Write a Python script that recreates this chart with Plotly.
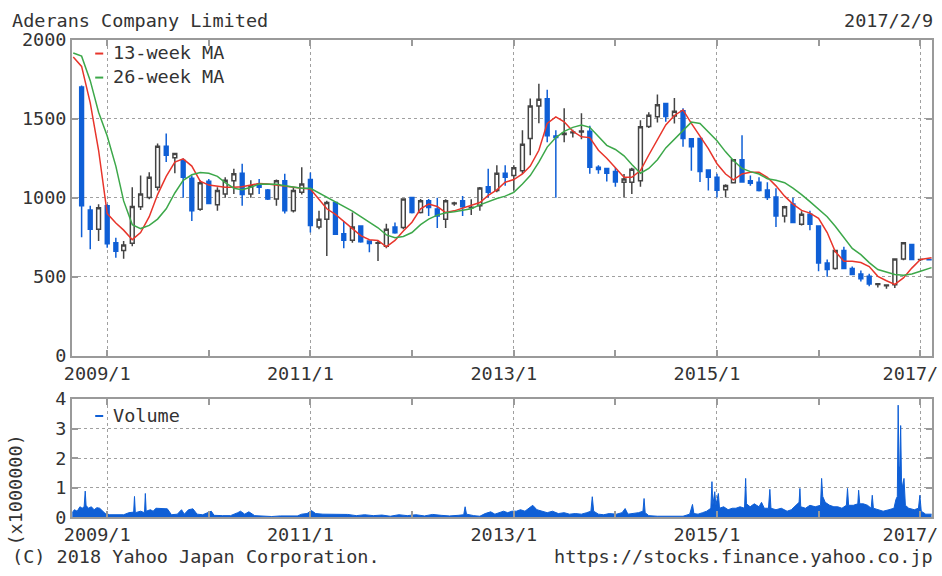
import pandas as pd
import plotly.graph_objects as go

# ---------------- data ----------------
candle_months = pd.date_range("2008-10-01", "2017-02-01", freq="MS")

opens = [1700, 922, 800,
         949, 715, 667, 712, 943, 1002, 1066, 1325, 1253, 1236, 1123, 927,
         1104, 955, 1023, 1108, 1155, 1023, 1087, 1049, 992, 1108, 917, 1034,
         1115, 815, 864, 970, 773, 731, 822, 726, 712, 694, 815, 811,
         1002, 906, 981, 928, 864, 962, 981, 936, 949, 1070, 1045, 1155,
         1140, 1170, 1374, 1580, 1625, 1390, 1400, 1410, 1415, 1420, 1193, 1185,
         1166, 1098, 1098, 1108, 1450, 1512, 1595, 1516, 1550, 1372, 1374, 1175,
         1130, 1050, 1095, 1240, 1108, 1098, 1049, 1004, 885, 960, 832, 896,
         822, 588, 552, 667, 552, 518, 503, 452, 444, 450, 612, 705,
         609, 610]
highs = [1710, 950, 958,
         958, 747, 726, 1066, 1140, 1161, 1343, 1406, 1285, 1248, 1140, 1110,
         1119, 1066, 1130, 1183, 1214, 1110, 1119, 1055, 1115, 1151, 1066, 1193,
         1160, 917, 981, 975, 853, 907, 825, 730, 726, 836, 843, 992,
         1005, 992, 992, 1000, 990, 975, 1011, 990, 1068, 1183, 1205, 1205,
         1205, 1427, 1627, 1720, 1682, 1427, 1565, 1430, 1534, 1455, 1205, 1187,
         1190, 1150, 1190, 1490, 1540, 1652, 1600, 1630, 1565, 1374, 1374, 1178,
         1151, 1085, 1245, 1395, 1140, 1130, 1098, 1060, 949, 1000, 915, 917,
         822, 609, 667, 690, 565, 540, 520, 458, 450, 615, 718, 708,
         612, 612]
lows = [750, 675, 726,
        683, 620, 614, 694, 922, 990, 1045, 1226, 1155, 1000, 853, 917,
        960, 917, 1000, 1023, 949, 1000, 1023, 985, 950, 900, 907, 1020,
        780, 800, 631, 765, 680, 716, 716, 656, 600, 680, 772, 800,
        900, 900, 885, 809, 809, 950, 885, 890, 917, 1002, 1034, 1076,
        1045, 1151, 1268, 1470, 1350, 1000, 1350, 1380, 1370, 1151, 1151, 1102,
        1070, 1002, 1023, 1070, 1440, 1475, 1480, 1469, 1323, 1170, 1100, 1045,
        1002, 1002, 1090, 1095, 1075, 1040, 985, 815, 843, 843, 825, 794,
        535, 500, 545, 552, 510, 470, 440, 432, 425, 430, 605, 605,
        600, 605]
closes = [950, 800, 936,
          709, 662, 701, 945, 1023, 1129, 1325, 1268, 1280, 1129, 917, 1094,
          964, 1045, 1110, 1151, 1020, 1076, 1066, 992, 1108, 917, 1045, 1087,
          825, 864, 970, 769, 731, 815, 722, 710, 716, 800, 779, 992,
          906, 981, 938, 885, 981, 966, 943, 940, 1062, 1034, 1155, 1129,
          1189, 1338, 1580, 1623, 1392, 1380, 1408, 1415, 1422, 1193, 1178, 1155,
          1100, 1119, 1180, 1448, 1522, 1588, 1514, 1546, 1375, 1323, 1165, 1130,
          1047, 1078, 1240, 1100, 1092, 1045, 1002, 885, 943, 843, 896, 832,
          588, 546, 667, 552, 514, 488, 455, 456, 448, 612, 715, 609,
          610, 608]

ma_dates = list(pd.date_range("2008-09-01", "2017-01-01", freq="MS").strftime("%Y-%m-%d")) + ["2017-02-10"]
ma13 = [1890, 1830, 1600, 1300,
        900, 840, 795, 735, 780, 880, 1020, 1135, 1225, 1246, 1200, 1105,
        1080, 1075, 1066, 1066, 1070, 1080, 1090, 1087, 1080, 1070, 1066, 1060,
        1055, 990, 930, 895, 850, 805, 760, 735, 730, 690, 730, 790,
        845, 930, 960, 945, 906, 917, 935, 950, 970, 1015, 1050, 1098,
        1115, 1150, 1200, 1300, 1470, 1511, 1480, 1420, 1385, 1380, 1300, 1250,
        1190, 1129, 1129, 1172, 1270, 1370, 1460, 1520, 1555, 1470, 1390, 1310,
        1215, 1150, 1113, 1150, 1161, 1161, 1129, 1075, 1010, 960, 920, 903,
        870, 780, 660, 599, 599, 590, 565, 503, 475, 452, 493, 555,
        610, 620]
ma26 = [1915, 1895, 1740, 1540,
        1390, 1200, 980, 830, 805, 825, 865, 930, 1030, 1110, 1145, 1160,
        1155, 1135, 1095, 1060, 1050, 1066, 1087, 1087, 1085, 1076, 1066, 1060,
        1060, 1030, 1000, 970, 945, 915, 880, 845, 810, 765, 747, 755,
        780, 830, 865, 890, 905, 912, 920, 930, 955, 975, 995, 1010,
        1034, 1087, 1140, 1225, 1320, 1380, 1420, 1445, 1460, 1445, 1390, 1331,
        1305, 1265, 1210, 1155, 1185, 1240, 1315, 1370, 1420, 1478, 1469, 1415,
        1360, 1290, 1235, 1185, 1165, 1150, 1120, 1110, 1095, 1060, 1020, 975,
        925, 880, 820, 750, 680, 640, 590, 546, 528, 515, 510, 518,
        535, 558]

vol_dates = [
    "2008-08-28", "2008-09-05", "2008-09-15", "2008-09-25", "2008-10-03", "2008-10-10", "2008-10-14",
    "2008-10-17", "2008-10-25", "2008-11-05", "2008-11-15", "2008-11-25", "2008-12-05", "2008-12-15",
    "2008-12-25", "2009-01-10", "2009-02-01", "2009-03-01", "2009-03-20", "2009-04-06", "2009-04-09",
    "2009-04-12", "2009-05-01", "2009-05-15", "2009-05-18", "2009-05-21", "2009-06-05", "2009-06-15",
    "2009-06-25", "2009-07-05", "2009-07-20", "2009-08-05", "2009-08-20", "2009-09-10", "2009-09-25",
    "2009-10-05", "2009-10-20", "2009-11-05", "2009-11-20", "2009-12-10", "2010-01-10", "2010-01-20",
    "2010-02-20", "2010-03-20", "2010-04-15", "2010-04-25", "2010-05-10", "2010-05-25", "2010-06-15",
    "2010-07-15", "2010-08-15", "2010-09-15", "2010-10-15", "2010-11-15", "2010-12-01", "2010-12-20",
    "2011-01-05", "2011-01-20", "2011-02-15", "2011-03-15", "2011-04-15", "2011-05-15", "2011-06-15",
    "2011-07-15", "2011-08-15", "2011-09-15", "2011-10-15", "2011-11-15", "2011-12-15", "2012-01-15",
    "2012-02-15", "2012-03-15", "2012-04-15", "2012-05-15", "2012-06-15", "2012-07-05", "2012-07-10",
    "2012-07-15", "2012-08-10", "2012-09-01", "2012-09-20", "2012-10-10", "2012-10-25", "2012-11-10",
    "2012-11-25", "2012-12-10", "2012-12-25", "2013-01-10", "2013-01-25", "2013-02-10", "2013-02-25",
    "2013-03-10", "2013-03-25", "2013-04-10", "2013-05-01", "2013-05-20", "2013-06-10", "2013-07-01",
    "2013-07-20", "2013-08-10", "2013-09-01", "2013-09-20", "2013-10-05", "2013-10-10", "2013-10-15",
    "2013-11-01", "2013-11-20", "2013-12-10", "2014-01-05", "2014-01-25", "2014-02-05", "2014-02-15",
    "2014-03-05", "2014-03-25", "2014-04-10", "2014-04-14", "2014-04-18", "2014-05-01", "2014-06-01",
    "2014-07-01", "2014-08-01", "2014-09-01", "2014-09-25", "2014-10-05", "2014-10-10", "2014-10-25",
    "2014-11-10", "2014-11-25", "2014-12-10", "2014-12-14", "2014-12-17", "2014-12-24", "2014-12-28",
    "2015-01-06", "2015-01-10", "2015-01-25", "2015-02-10", "2015-02-25", "2015-03-10", "2015-03-25",
    "2015-04-10", "2015-04-14", "2015-04-17", "2015-04-30", "2015-05-15", "2015-06-01", "2015-06-10",
    "2015-06-20", "2015-07-05", "2015-07-10", "2015-07-14", "2015-08-01", "2015-08-20", "2015-09-10",
    "2015-09-25", "2015-10-10", "2015-10-23", "2015-10-26", "2015-10-29", "2015-11-15", "2015-12-01",
    "2015-12-20", "2016-01-08", "2016-01-12", "2016-01-16", "2016-01-25", "2016-02-10", "2016-02-25",
    "2016-03-10", "2016-03-25", "2016-04-10", "2016-04-14", "2016-04-18", "2016-05-05", "2016-05-21",
    "2016-05-24", "2016-05-28", "2016-06-10", "2016-06-25", "2016-07-08", "2016-07-12", "2016-07-16",
    "2016-08-01", "2016-08-20", "2016-09-10", "2016-09-28", "2016-10-05", "2016-10-10", "2016-10-13",
    "2016-10-16", "2016-10-19", "2016-10-22", "2016-10-25", "2016-10-29", "2016-11-03", "2016-11-08",
    "2016-11-20", "2016-12-10", "2016-12-25", "2016-12-30", "2017-01-04", "2017-01-20", "2017-02-10",
]
vol_values = [
    0.15, 0.25, 0.2, 0.35, 0.3, 0.35, 0.88,
    0.4, 0.3, 0.35, 0.25, 0.32, 0.3, 0.2,
    0.12, 0.08, 0.07, 0.08, 0.15, 0.17, 0.7,
    0.15, 0.2, 0.15, 0.8, 0.2, 0.25, 0.2,
    0.3, 0.3, 0.3, 0.28, 0.08, 0.1, 0.25,
    0.1, 0.25, 0.28, 0.1, 0.08, 0.2, 0.06,
    0.05, 0.05, 0.15, 0.2, 0.1, 0.18, 0.05,
    0.04, 0.02, 0.04, 0.03, 0.04, 0.1, 0.12,
    0.22, 0.12, 0.1, 0.1, 0.08, 0.09, 0.05,
    0.08, 0.05, 0.07, 0.03, 0.08, 0.05, 0.08,
    0.04, 0.09, 0.06, 0.04, 0.06, 0.08, 0.35,
    0.1, 0.05, 0.03, 0.12, 0.18, 0.1, 0.15,
    0.2, 0.15, 0.2, 0.2, 0.25, 0.2, 0.3,
    0.4, 0.25, 0.2, 0.15, 0.2, 0.12, 0.15,
    0.1, 0.12, 0.1, 0.15, 0.2, 0.69, 0.2,
    0.1, 0.08, 0.12, 0.1, 0.15, 0.29, 0.1,
    0.12, 0.15, 0.2, 0.63, 0.15, 0.05, 0.03,
    0.03, 0.03, 0.03, 0.1, 0.43, 0.12, 0.1,
    0.15, 0.2, 0.3, 1.2, 0.4, 0.86, 0.4,
    0.8, 0.3, 0.35, 0.25, 0.3, 0.3, 0.35,
    0.3, 1.31, 0.45, 0.35, 0.45, 0.35, 0.5,
    0.3, 0.3, 0.94, 0.3, 0.25, 0.3, 0.2,
    0.25, 0.4, 0.5, 0.97, 0.35, 0.3, 0.4,
    0.35, 0.4, 1.31, 0.7, 0.5, 0.4, 0.35,
    0.35, 0.3, 0.4, 0.97, 0.4, 0.4, 0.45,
    0.91, 0.45, 0.45, 0.4, 0.3, 0.74, 0.3,
    0.25, 0.2, 0.25, 0.3, 0.6, 0.7, 3.79,
    1.7, 1.7, 3.1, 1.26, 1.0, 1.31, 0.4,
    0.3, 0.25, 0.3, 0.74, 0.2, 0.1, 0.1,
]

x_tick_vals = ["2009-01-01", "2011-01-01", "2013-01-01", "2015-01-01", "2017-01-01"]
x_tick_text = ["2009/1", "2011/1", "2013/1", "2015/1", "2017/"]
x_minor_vals = ["2010-01-01", "2012-01-01", "2014-01-01", "2016-01-01"]
price_ticks = [0, 500, 1000, 1500, 2000]
vol_ticks = [0, 1, 2, 3, 4]

# ---------------- style / geometry ----------------
FONT = "DejaVu Sans Mono"
FS = 18.5
TXT = "#333333"
FRAME = "#9a9a9a"
GRID = "#a0a0a0"
BLUE = "#0f5fd6"
RED = "#e8352b"
GREEN = "#3da84a"
TW, TH = 942, 576            # target picture size
KX, KY = 0.983, 0.963        # observed scale of the photographed page
BX, BY = 9.0, 11.5           # observed offset of the page in the photo
W, H = round((TW - BX) / KX), round((TH - BY) / KY)
X_RANGE = ["2008-08-28", "2017-02-12"]


def px(t):
    return ((t - BX) / KX) / W


def py(t):
    return 1 - ((t - BY) / KY) / H


fig = go.Figure()
fig.add_trace(go.Candlestick(
    x=candle_months, open=opens, high=highs, low=lows, close=closes,
    increasing=dict(line=dict(color="#444444", width=1.5), fillcolor="white"),
    decreasing=dict(line=dict(color=BLUE, width=1.5), fillcolor=BLUE),
    whiskerwidth=0, showlegend=False, xaxis="x", yaxis="y", name="price"))
fig.add_trace(go.Scatter(x=ma_dates, y=ma13, mode="lines", line=dict(color=RED, width=1.5),
                         showlegend=False, xaxis="x", yaxis="y", name="13-week MA"))
fig.add_trace(go.Scatter(x=ma_dates, y=ma26, mode="lines", line=dict(color=GREEN, width=1.5),
                         showlegend=False, xaxis="x", yaxis="y", name="26-week MA"))
fig.add_trace(go.Scatter(x=vol_dates, y=vol_values, mode="lines", fill="tozeroy",
                         line=dict(color=BLUE, width=1), fillcolor=BLUE,
                         showlegend=False, xaxis="x2", yaxis="y2", name="Volume"))

xcommon = dict(
    type="date", range=X_RANGE, tickmode="array", tickvals=x_tick_vals, ticktext=x_tick_text,
    showgrid=True, gridcolor=GRID, griddash="3px,3px", gridwidth=1,
    ticks="inside", ticklen=6, tickcolor=FRAME, tickwidth=2,
    showline=True, linecolor=FRAME, linewidth=2, mirror="ticks",
    minor=dict(tickmode="array", tickvals=x_minor_vals, ticks="inside", ticklen=6,
               tickcolor=FRAME, tickwidth=2, showgrid=False),
    tickfont=dict(family=FONT, size=FS, color=TXT), ticklabelshift=-10,
    ticklabeloverflow="allow",
    rangeslider=dict(visible=False), zeroline=False, fixedrange=True,
)
ycommon = dict(
    tickmode="array", showgrid=True, gridcolor=GRID, griddash="3px,3px", gridwidth=1,
    ticks="inside", ticklen=6, tickcolor=FRAME, tickwidth=2,
    showline=True, linecolor=FRAME, linewidth=2, mirror="ticks", zeroline=False,
    tickfont=dict(family=FONT, size=FS, color=TXT), fixedrange=True,
)

fig.update_layout(
    width=W, height=H, margin=dict(l=0, r=0, t=0, b=0),
    paper_bgcolor="white", plot_bgcolor="white",
    font=dict(family=FONT, size=FS, color=TXT),
    xaxis=dict(domain=[px(73), px(931)], anchor="y", **xcommon),
    yaxis=dict(domain=[py(356), py(40)], anchor="x", range=[0, 2000], tickvals=price_ticks, **ycommon),
    xaxis2=dict(domain=[px(73), px(931)], anchor="y2", **xcommon),
    yaxis2=dict(domain=[py(517), py(399)], anchor="x2", range=[0, 4], tickvals=vol_ticks, **ycommon),
)

ann = [
    dict(x=px(11), y=py(21), text="Aderans Company Limited", xanchor="left"),
    dict(x=px(934), y=py(21), text="2017/2/9", xanchor="right"),
    dict(x=px(11), y=py(556), text="(C) 2018 Yahoo Japan Corporation.", xanchor="left"),
    dict(x=px(934), y=py(556), text="https://stocks.finance.yahoo.co.jp", xanchor="right"),
    dict(x=px(112), y=py(53), text="13-week MA", xanchor="left"),
    dict(x=px(112), y=py(77), text="26-week MA", xanchor="left"),
    dict(x=px(112), y=py(416), text="Volume", xanchor="left"),
    dict(x=px(16.5), y=py(490), text="(x1000000)", textangle=-90, xanchor="center"),
]
for a in ann:
    fig.add_annotation(xref="paper", yref="paper", showarrow=False, yanchor="middle",
                       font=dict(family=FONT, size=FS, color=TXT), **a)

# short legend dashes
for ypix, col in [(54, RED), (78, GREEN), (416, BLUE)]:
    fig.add_shape(type="line", xref="paper", yref="paper",
                  x0=px(96), x1=px(104), y0=py(ypix), y1=py(ypix),
                  line=dict(color=col, width=2))

post = ("document.documentElement.style.margin='0';document.body.style.margin='0';"
        "document.body.style.padding='0';")
fig.write_html("out.html", config={"staticPlot": True}, post_script=post)
